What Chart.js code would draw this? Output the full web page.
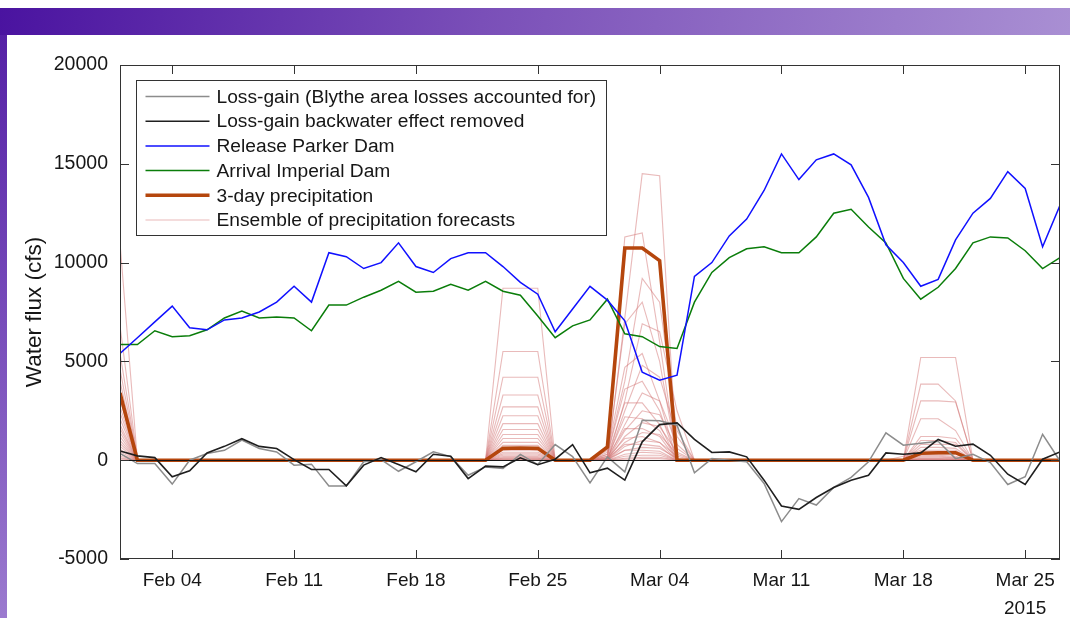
<!DOCTYPE html>
<html>
<head>
<meta charset="utf-8">
<title>Water flux</title>
<script src="https://cdn.jsdelivr.net/npm/chart.js@4.4.1/dist/chart.umd.min.js"></script>
<style>
  html, body { margin: 0; padding: 0; width: 1070px; height: 618px; overflow: hidden; background: #fff; }
  #band { position: absolute; left: 0; top: 8px; width: 1070px; height: 27px;
          background: linear-gradient(100deg, #4a13a0 0%, #7a4fb8 45%, #a98fd3 100%); }
  #side { position: absolute; left: 0; top: 35px; width: 7px; height: 583px;
          background: linear-gradient(#5520a6, #9b7acf); }
  #wrap { position: absolute; left: 7px; top: 35px; width: 1063px; height: 583px; background: #fff; }
</style>
</head>
<body>
<div id="band"></div>
<div id="side"></div>
<div id="wrap"><canvas id="fluxChart" width="1063" height="583"></canvas></div>

<script>
// daily values, day 0 = Feb 01 2015 ... day 54 = Mar 27 2015
const tickDays = [3, 10, 17, 24, 31, 38, 45, 52];
const tickLabels = ['Feb 04', 'Feb 11', 'Feb 18', 'Feb 25', 'Mar 04', 'Mar 11', 'Mar 18', ['Mar 25', '2015']];

const releaseParker = [5400, 6200, 7000, 7800, 6700, 6600, 7100, 7200, 7500, 8000,
  8800, 8000, 10500, 10300, 9700, 10000, 11000, 9800, 9500, 10200,
  10500, 10500, 9800, 9000, 8400, 6500, 7650, 8800, 8100, 7050,
  4450, 4050, 4300, 9300, 10000, 11350, 12200, 13650, 15500, 14200,
  15200, 15500, 14950, 13300, 10900, 10000, 8800, 9150, 11150, 12500,
  13250, 14600, 13750, 10800, 12900];

const arrivalImperial = [5850, 5850, 6550, 6250, 6300, 6600, 7200, 7550, 7200, 7250,
  7200, 6550, 7850, 7850, 8250, 8600, 9050, 8500, 8550, 8900,
  8600, 9050, 8550, 8350, 7300, 6200, 6800, 7100, 8150, 6400,
  6250, 5750, 5650, 8000, 9500, 10250, 10700, 10800, 10500, 10500,
  11300, 12500, 12700, 11800, 11000, 9200, 8150, 8750, 9700, 11000,
  11300, 11250, 10600, 9700, 10250];

const lossGain = [340, -170, -170, -1210, 0, 340, 500, 1020, 590, 420,
  -250, -200, -1310, -1310, -80, 30, -560, -80, 420, 180,
  -760, -340, -420, 290, -220, 790, 180, -1150, 170, -590,
  2020, 2000, 1770, -640, 80, 0, -80, -1180, -3110, -1940,
  -2270, -1380, -870, -80, 1380, 760, 860, 960, 80, 300,
  -120, -1230, -840, 1310, -40];

const lossGainNoBackwater = [470, 220, 130, -840, -540, 370, 700, 1090, 700, 590,
  30, -470, -470, -1300, -250, 130, -220, -590, 300, 200,
  -930, -300, -340, 120, -230, 50, 790, -640, -400, -1010,
  930, 1800, 1890, 1050, 390, 420, 170, -1010, -2320, -2490,
  -1890, -1380, -1010, -760, 370, 300, 370, 1050, 710, 810,
  250, -710, -1230, 50, 420];

const precip3day = [3400, 0, 0, 0, 0, 0, 0, 0, 0, 0,
  0, 0, 0, 0, 0, 0, 0, 0, 0, 0,
  0, 0, 600, 620, 600, 0, 0, 0, 670, 10740,
  10740, 10100, 0, 0, 0, 0, 0, 0, 0, 0,
  0, 0, 0, 0, 0, 0, 350, 380, 380, 0,
  0, 0, 0, 0, 0];

// ensemble members: value at Feb 01
const ensFeb01 = [11000, 6800, 5400, 4600, 4000, 3500, 3100, 2700, 2400, 2100,
  1800, 1600, 1400, 1200, 1000, 850, 700, 550, 420, 300, 200, 120, 60, 0];
// plateau Feb 23-25
const ensFeb23 = [8700, 5500, 4200, 3300, 2700, 2250, 1850, 1550, 1300, 1100,
  900, 750, 620, 500, 400, 320, 250, 190, 140, 100, 70, 40, 20, 0];
// Mar 01 .. Mar 05
const ensMar01 = [
  [0, 7200, 14500, 14400, 0], [500, 11300, 11500, 6000, 0], [300, 4000, 9200, 8000, 1500],
  [200, 6900, 8000, 5000, 0], [0, 3000, 6900, 6500, 2500], [400, 4700, 5400, 3000, 0],
  [0, 2500, 4800, 4200, 1200], [300, 3600, 4000, 2500, 0], [0, 1800, 3400, 3000, 800],
  [200, 2900, 2900, 1800, 0], [0, 1500, 2500, 2300, 600], [100, 2200, 2100, 1500, 0],
  [0, 1200, 1900, 1700, 400], [150, 1600, 1600, 1200, 0], [0, 900, 1400, 1300, 300],
  [100, 1100, 1200, 900, 0], [0, 700, 1000, 900, 200], [80, 800, 800, 700, 0],
  [0, 500, 650, 600, 100], [50, 500, 500, 450, 0], [0, 300, 400, 350, 0],
  [0, 200, 250, 250, 0], [0, 100, 150, 150, 0], [0, 50, 80, 80, 0]];
// Mar 15 .. Mar 18
const ensMar15 = [
  [0, 5200, 5200, 5200], [0, 3850, 3850, 3000], [0, 3000, 3000, 2950], [0, 2100, 2100, 1500],
  [0, 1200, 1200, 1100], [0, 1000, 1000, 900], [0, 800, 800, 800], [0, 650, 650, 600],
  [200, 500, 500, 500], [0, 400, 400, 400], [0, 300, 300, 300], [0, 250, 250, 200],
  [0, 200, 200, 150], [0, 150, 150, 120], [0, 100, 100, 100], [0, 80, 80, 60],
  [0, 50, 50, 40], [0, 30, 30, 20], [0, 0, 0, 0], [0, 0, 0, 0],
  [0, 0, 0, 0], [0, 0, 0, 0], [0, 0, 0, 0], [0, 0, 0, 0]];

const FONT = '"Liberation Sans", Arial, sans-serif';
const INK = '#161616';

function series(label, values, color, width, order) {
    return {
        label: label,
        data: values.map((v, i) => ({ x: i, y: v })),
        borderColor: color,
        backgroundColor: color,
        borderWidth: width,
        pointRadius: 0,
        tension: 0,
        fill: false,
        order: order
    };
}

const datasets = [
    series('Loss-gain (Blythe area losses accounted for)', lossGain, '#8c8c8c', 1.5, 2),
    series('Loss-gain backwater effect removed', lossGainNoBackwater, '#1f1f1f', 1.6, 1),
    series('Release Parker Dam', releaseParker, '#1010ff', 1.5, 3),
    series('Arrival Imperial Dam', arrivalImperial, '#0a7d0a', 1.5, 4),
    series('3-day precipitation', precip3day, '#b5460d', 3.6, 5)
];

// ensemble of precipitation forecasts
for (let m = 0; m < ensFeb01.length; m++) {
    const vals = releaseParker.map(() => 0);
    vals[0] = ensFeb01[m];
    vals[22] = vals[23] = vals[24] = ensFeb23[m];
    ensMar01[m].forEach((v, k) => { vals[28 + k] = v; });
    ensMar15[m].forEach((v, k) => { vals[45 + k] = v; });
    const ds = series('Ensemble of precipitation forecasts', vals, 'rgba(212, 118, 118, 0.5)', 1.1, 10);
    ds.hideInLegend = m > 0;
    datasets.push(ds);
}

// box, inward ticks, zero line and legend like the original figure
const frameAndLegend = {
    id: 'frameAndLegend',
    afterDatasetsDraw(chart) {
        const { ctx, chartArea: a, scales: { x, y } } = chart;
        ctx.save();
        ctx.lineWidth = 1;
        ctx.strokeStyle = INK;

        const y0 = Math.round(y.getPixelForValue(0)) + 0.5;
        ctx.beginPath();
        ctx.moveTo(a.left, y0);
        ctx.lineTo(a.right, y0);
        ctx.stroke();

        ctx.strokeStyle = '#333';
        ctx.strokeRect(Math.round(a.left) + 0.5, Math.round(a.top) + 0.5,
            Math.round(a.width) - 1, Math.round(a.height) - 1);

        ctx.beginPath();
        x.ticks.forEach(t => {
            const px = Math.round(x.getPixelForValue(t.value)) + 0.5;
            ctx.moveTo(px, a.bottom); ctx.lineTo(px, a.bottom - 9);
            ctx.moveTo(px, a.top); ctx.lineTo(px, a.top + 9);
        });
        y.ticks.forEach(t => {
            const py = Math.round(y.getPixelForValue(t.value)) + 0.5;
            ctx.moveTo(a.left, py); ctx.lineTo(a.left + 9, py);
            ctx.moveTo(a.right, py); ctx.lineTo(a.right - 9, py);
        });
        ctx.stroke();

        // legend
        const bx = Math.round(a.left) + 16.5, by = Math.round(a.top) + 15.5;
        const bw = 470, bh = 155;
        ctx.fillStyle = '#fff';
        ctx.fillRect(bx, by, bw, bh);
        ctx.strokeStyle = '#333';
        ctx.strokeRect(bx, by, bw, bh);

        const items = chart.data.datasets.filter(d => !d.hideInLegend);
        ctx.font = '19.2px ' + FONT;
        ctx.textBaseline = 'middle';
        ctx.textAlign = 'left';
        items.forEach((d, i) => {
            const ry = by + 16 + i * 24.7;
            ctx.strokeStyle = d.borderColor;
            ctx.lineWidth = d.borderWidth;
            ctx.beginPath();
            ctx.moveTo(bx + 9, ry);
            ctx.lineTo(bx + 73, ry);
            ctx.stroke();
            ctx.fillStyle = INK;
            ctx.fillText(d.label, bx + 80, ry + 1);
        });
        ctx.restore();
    }
};

new Chart(document.getElementById('fluxChart'), {
    type: 'line',
    data: { datasets: datasets },
    options: {
        responsive: false,
        animation: false,
        events: [],
        layout: { padding: { top: 30, right: 10, left: 0, bottom: 0 } },
        scales: {
            x: {
                type: 'linear',
                min: 0,
                max: 54,
                afterBuildTicks: axis => { axis.ticks = tickDays.map(v => ({ value: v })); },
                afterFit: axis => { axis.height = 59; },
                grid: { display: false, drawTicks: false },
                border: { display: false },
                ticks: {
                    autoSkip: false,
                    maxRotation: 0,
                    padding: 8,
                    color: INK,
                    font: { family: FONT, size: 19, lineHeight: 1.45 },
                    callback: (v, i) => tickLabels[i]
                }
            },
            y: {
                min: -5000,
                max: 20000,
                afterFit: axis => { axis.width = 113; },
                grid: { display: false, drawTicks: false },
                border: { display: false },
                ticks: {
                    stepSize: 5000,
                    padding: 12,
                    color: INK,
                    font: { family: FONT, size: 19.5 },
                    callback: v => String(v)
                },
                title: {
                    display: true,
                    text: 'Water flux (cfs)',
                    color: INK,
                    font: { family: FONT, size: 22.5 },
                    padding: { top: 14, bottom: 0 }
                }
            }
        },
        plugins: {
            legend: { display: false },
            tooltip: { enabled: false }
        }
    },
    plugins: [frameAndLegend]
});
</script>
</body>
</html>
